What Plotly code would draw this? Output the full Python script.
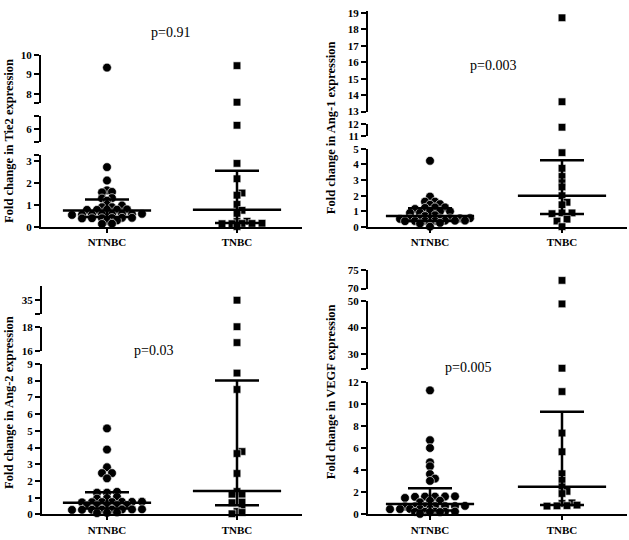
import plotly.graph_objects as go

W, H = 629, 540
groups = ["NTNBC", "TNBC"]

# ---------------- data ----------------
tie2_ntnbc = [9.35, 2.73, 2.12, 1.67, 1.60, 1.58, 1.32, 1.30, 1.20, 1.02, 0.98, 0.90, 0.90,
              0.80, 0.79, 0.79, 0.78, 0.78, 0.60, 0.58, 0.58, 0.57, 0.57, 0.56, 0.56, 0.55,
              0.42, 0.42, 0.41, 0.40, 0.40, 0.39, 0.30, 0.28, 0.15, 0.14]
tie2_tnbc = [9.45, 7.58, 6.2, 2.9, 2.2, 1.55, 1.45, 1.03, 0.76, 0.62, 0.26, 0.25, 0.17,
             0.16, 0.16, 0.15, 0.15, 0.02]
tie2_median = [0.75, 0.78]
tie2_upper = [1.25, 2.57]
tie2_lower = [0.45, 0.18]

ang1_ntnbc = [4.23, 1.94, 1.62, 1.62, 1.46, 1.42, 1.25, 1.25, 1.22, 1.15, 1.0, 1.0, 1.0,
              0.9, 0.9, 0.75, 0.7, 0.56, 0.55, 0.55, 0.54, 0.54, 0.53, 0.53, 0.52,
              0.41, 0.40, 0.40, 0.39, 0.39, 0.38, 0.37, 0.26, 0.24, 0.22, 0.02]
ang1_tnbc = [18.7, 13.6, 11.75, 4.75, 3.75, 3.23, 2.83, 2.56, 2.0, 1.58, 1.42, 0.9, 0.85,
             0.9, 0.5, 0.38, 0.02]
ang1_median = [0.70, 2.0]
ang1_upper = [1.2, 4.27]
ang1_lower = [0.4, 0.83]

ang2_ntnbc = [5.14, 3.88, 2.82, 2.47, 2.47, 2.16, 1.35, 1.30, 1.30, 1.05, 0.97, 0.95,
              0.76, 0.75, 0.75, 0.74, 0.74, 0.73, 0.72, 0.56, 0.55, 0.55, 0.54, 0.53,
              0.31, 0.30, 0.30, 0.29, 0.29, 0.28, 0.28, 0.27, 0.12, 0.10, 0.08]
ang2_tnbc = [35.0, 18.0, 16.7, 8.45, 7.47, 3.76, 3.64, 2.45, 1.37, 1.21, 1.21, 0.74,
             0.70, 0.33, 0.18, 0.12, 0.04]
ang2_median = [0.70, 1.40]
ang2_upper = [1.33, 8.0]
ang2_lower = [0.35, 0.55]

vegf_ntnbc = [11.28, 6.75, 6.04, 4.74, 4.38, 3.67, 3.26, 3.05, 1.65, 1.63, 1.62, 1.62,
              1.6, 1.5, 1.25, 1.24, 1.1, 0.78, 0.76, 0.75, 0.75, 0.74, 0.73, 0.72, 0.52,
              0.5, 0.5, 0.49, 0.48, 0.26, 0.25, 0.25, 0.24, 0.23, 0.22, 0.21, 0.05]
vegf_tnbc = [72.2, 49.0, 24.6, 11.17, 7.4, 5.7, 3.7, 3.1, 2.5, 2.1, 1.9, 1.05, 1.0, 0.85,
             0.8, 0.78, 0.76]
vegf_median = [0.95, 2.52]
vegf_upper = [2.37, 9.33]
vegf_lower = [0.35, 0.85]

titles = ["Fold change in Tie2 expression", "Fold change in Ang-1 expression",
          "Fold change in Ang-2 expression", "Fold change in VEGF expression"]
pvalues = ["p=0.91", "p=0.003", "p=0.03", "p=0.005"]

# broken-axis segments (bottom -> top): value range, labelled ticks, unlabelled end caps
tie2_segments = [[0, 3.3], [5.35, 6.7], [7.55, 10]]
tie2_ticks = [[0, 1, 2, 3], [6], [8, 9, 10]]
tie2_caps = [[3.3], [5.35, 6.7], [7.55]]
ang1_segments = [[0, 5], [11, 12], [13, 19.12]]
ang1_ticks = [[0, 1, 2, 3, 4, 5], [11, 12], [13, 14, 15, 16, 17, 18, 19]]
ang1_caps = [[], [], []]
ang2_segments = [[0, 9], [16, 18], [34.05, 36.0]]
ang2_ticks = [[0, 1, 2, 3, 4, 5, 6, 7, 8, 9], [16, 18], [35]]
ang2_caps = [[], [], [34.05]]
vegf_segments = [[0, 12], [24.4, 50], [70, 75]]
vegf_ticks = [[0, 2, 4, 6, 8, 10, 12], [30, 40, 50], [70, 75]]
vegf_caps = [[], [24.4], []]

panels = [
    dict(n=tie2_ntnbc, t=tie2_tnbc, med=tie2_median, up=tie2_upper, lo=tie2_lower,
         segs=tie2_segments, ticks=tie2_ticks, caps=tie2_caps),
    dict(n=ang1_ntnbc, t=ang1_tnbc, med=ang1_median, up=ang1_upper, lo=ang1_lower,
         segs=ang1_segments, ticks=ang1_ticks, caps=ang1_caps),
    dict(n=ang2_ntnbc, t=ang2_tnbc, med=ang2_median, up=ang2_upper, lo=ang2_lower,
         segs=ang2_segments, ticks=ang2_ticks, caps=ang2_caps),
    dict(n=vegf_ntnbc, t=vegf_tnbc, med=vegf_median, up=vegf_upper, lo=vegf_lower,
         segs=vegf_segments, ticks=vegf_ticks, caps=vegf_caps),
]

# ---------------- layout geometry (pixels) ----------------
geom = [
    dict(xl=41, xr=302, c0=107, c1=237, py=[(226, 152), (139, 112), (99, 50)],
         tx=9, ty=138, px=170, pyv=27),
    dict(xl=368, xr=627, c0=430, c1=562, py=[(226, 146), (133, 121), (108, 5)],
         tx=331, ty=125, px=493, pyv=61),
    dict(xl=42, xr=302, c0=107, c1=237, py=[(520, 366), (353, 328), (315, 286)],
         tx=9, ty=406, px=153, pyv=352),
    dict(xl=368, xr=627, c0=430, c1=562, py=[(520, 385), (371, 302), (289, 270)],
         tx=331, ty=395, px=468, pyv=370),
]

FONT = "Liberation Serif"


def seg_index(v, segs):
    for k, (a, b) in enumerate(segs):
        if a - 1e-9 <= v <= b + 1e-9:
            return k
    return min(range(len(segs)), key=lambda k: min(abs(v - segs[k][0]), abs(v - segs[k][1])))


def to_py(v, segs, py):
    k = seg_index(v, segs)
    a, b = segs[k]
    pb, pt = py[k]
    return pb - (v - a) / (b - a) * (pb - pt)


def swarm(pys, spacing=10.0, tol=2.0, cdy=3.5, cdx=4.0):
    """GraphPad-like scatter: cluster into rows, centre each row, shift rows that collide."""
    order = sorted(range(len(pys)), key=lambda i: -pys[i])
    rows, cur = [], []
    for i in order:
        if cur and abs(pys[i] - pys[cur[0]]) > tol:
            rows.append(cur)
            cur = []
        cur.append(i)
    if cur:
        rows.append(cur)
    offs = [0.0] * len(pys)
    placed = []
    for row in rows:
        n = len(row)
        base = [(j - (n - 1) / 2) * spacing for j in range(n)]
        for shift in [0, 5, -5, 10, -10, 15, -15, 20, -20]:
            ok = True
            for j, i in enumerate(row):
                for ox, oy in placed:
                    if abs(pys[i] - oy) < cdy and abs(base[j] + shift - ox) < cdx:
                        ok = False
                        break
                if not ok:
                    break
            if ok:
                break
        for j, i in enumerate(row):
            offs[i] = base[j] + shift
            placed.append((offs[i], pys[i]))
    return offs


fig = go.Figure()
layout = dict(width=W, height=H, margin=dict(l=0, r=0, t=0, b=0),
              paper_bgcolor="white", plot_bgcolor="white", showlegend=False)
annotations = []
yidx = 0
for p, (pd_, g) in enumerate(zip(panels, geom)):
    xname = "x" if p == 0 else f"x{p + 1}"
    xkey = "xaxis" if p == 0 else f"xaxis{p + 1}"
    unit = g["c1"] - g["c0"]
    yrefs = []
    for k, seg in enumerate(pd_["segs"]):
        yidx += 1
        yname = "y" if yidx == 1 else f"y{yidx}"
        ykey = "yaxis" if yidx == 1 else f"yaxis{yidx}"
        yrefs.append(yname)
        pb, pt = g["py"][k]
        tv = list(pd_["ticks"][k]) + list(pd_["caps"][k])
        tt = [str(v) for v in pd_["ticks"][k]] + [""] * len(pd_["caps"][k])
        layout[ykey] = dict(domain=[1 - pb / H, 1 - pt / H], range=seg, anchor=xname,
                            showline=True, linecolor="black", linewidth=2,
                            ticks="outside", ticklen=5, tickwidth=2, tickcolor="black",
                            tickmode="array", tickvals=tv, ticktext=tt,
                            tickfont=dict(family=FONT, size=11, color="black", weight="bold"),
                            showgrid=False, zeroline=False, fixedrange=True)
    layout[xkey] = dict(domain=[g["xl"] / W, g["xr"] / W],
                        range=[(g["xl"] - g["c0"]) / unit, (g["xr"] - g["c0"]) / unit],
                        anchor=yrefs[0], showline=True, linecolor="black", linewidth=2,
                        ticks="outside", ticklen=4, tickwidth=2, tickcolor="black",
                        tickmode="array", tickvals=[0, 1], ticktext=groups,
                        tickfont=dict(family=FONT, size=11, color="black", weight="bold"),
                        showgrid=False, zeroline=False, fixedrange=True)

    for gi, vals in enumerate([pd_["n"], pd_["t"]]):
        pys = [to_py(v, pd_["segs"], g["py"]) for v in vals]
        offs = swarm(pys)
        for k in range(len(pd_["segs"])):
            xs = [gi + o / unit for v, o in zip(vals, offs) if seg_index(v, pd_["segs"]) == k]
            ys = [v for v in vals if seg_index(v, pd_["segs"]) == k]
            if not ys:
                continue
            fig.add_trace(go.Scatter(
                x=xs, y=ys, mode="markers", xaxis=xname, yaxis=yrefs[k], cliponaxis=False,
                marker=dict(symbol="circle" if gi == 0 else "square",
                            size=8.8 if gi == 0 else 7.6, color="black",
                            line=dict(color="white", width=0.6)),
                hoverinfo="skip"))
    med = pd_["med"]
    fig.add_trace(go.Scatter(
        x=[0, 1], y=med, mode="markers", xaxis=xname, yaxis=yrefs[0], cliponaxis=False,
        marker=dict(symbol="line-ew-open", size=63, color="black",
                    line=dict(color="black", width=2.5)),
        error_y=dict(type="data", symmetric=False,
                     array=[u - m for u, m in zip(pd_["up"], med)],
                     arrayminus=[m - l for m, l in zip(med, pd_["lo"])],
                     color="black", thickness=2.5, width=22),
        hoverinfo="skip"))

    annotations.append(dict(text=titles[p], x=g["tx"] / W, y=1 - g["ty"] / H, xref="paper",
                            yref="paper", textangle=-90, showarrow=False, xanchor="center",
                            yanchor="middle",
                            font=dict(family=FONT, size=12.5, color="black", weight="bold")))
    annotations.append(dict(text=pvalues[p], x=g["px"] / W, y=1 - g["pyv"] / H, xref="paper",
                            yref="paper", showarrow=False, xanchor="center", yanchor="middle",
                            font=dict(family=FONT, size=14, color="black")))

layout["annotations"] = annotations
fig.update_layout(**layout)
fig.write_html("out.html", config={"displayModeBar": False},
               post_script="document.body.style.margin='0px';document.body.style.overflow='hidden';")
